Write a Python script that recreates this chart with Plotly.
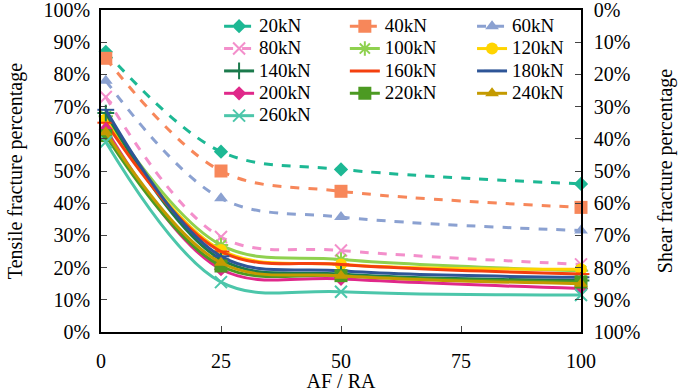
import plotly.graph_objects as go

x_vals = [1, 25, 50, 100]
labels = ["20kN", "40kN", "60kN", "80kN", "100kN", "120kN", "140kN",
          "160kN", "180kN", "200kN", "220kN", "240kN", "260kN"]
v20 = [87, 56, 50.5, 46]
v40 = [85, 50, 43.7, 38.7]
v60 = [78, 41.5, 35.7, 31.5]
v80 = [73, 29.5, 25.3, 21]
v100 = [67, 27, 22.5, 19]
v120 = [66, 25.5, 21, 19.5]
v140 = [68, 22.5, 18, 16]
v160 = [65, 25, 21, 18]
v180 = [69, 23.5, 19, 17]
v200 = [63, 19.5, 16.5, 13.5]
v220 = [61, 20.5, 17.5, 15.5]
v240 = [62, 21.5, 17.5, 15]
v260 = [59, 15.5, 12.5, 11.5]
series = [v20, v40, v60, v80, v100, v120, v140, v160, v180, v200, v220, v240, v260]
y_ticks = [0, 10, 20, 30, 40, 50, 60, 70, 80, 90, 100]
y_tick_text = [f"{t}%" for t in y_ticks]
x_ticks = [0, 25, 50, 75, 100]

colors = ["#1DB894", "#F7875A", "#8BA1D1", "#F38FCB", "#8FD14F", "#FFD400",
          "#1B7A4C", "#F4400F", "#2E5597", "#E0288A", "#4C9A22", "#C49A00", "#4CC6AA"]
symbols = ["diamond", "square", "triangle-up", "x-thin", "asterisk", "circle",
           "cross-thin", "line-ew", "line-ew", "diamond", "square", "triangle-up", "x-thin"]
dashes = ["dash"] * 4 + ["solid"] * 9
msize = [11, 13, 12, 12, 12, 12, 12, 12, 12, 11, 13, 12, 12]
legend_ids = ["legend", "legend2", "legend3"]

FONT = "Liberation Serif"
fig = go.Figure()
for i, (name, vals) in enumerate(zip(labels, series)):
    sym = symbols[i]
    open_sym = sym in ("x-thin", "asterisk", "cross-thin", "line-ew")
    fig.add_trace(go.Scatter(
        x=x_vals, y=vals, name=f'<span style="font-size:19px">{name}</span>',
        mode="lines+markers", cliponaxis=False,
        line=dict(color=colors[i], width=3, dash=dashes[i],
                  shape="spline", smoothing=1),
        marker=dict(symbol=sym, size=msize[i], color=colors[i],
                    line=dict(color=colors[i], width=2 if open_sym else 0)),
        legend=legend_ids[i % 3],
    ))

# invisible helper trace for the shear axis
fig.add_trace(go.Scatter(x=x_vals, y=[100 - v for v in v20], yaxis="y2",
                         mode="lines", line=dict(width=0), opacity=0,
                         showlegend=False, hoverinfo="skip"))

leg_common = dict(bgcolor="rgba(0,0,0,0)", font=dict(family=FONT, size=14.9, color="black"),
                  yanchor="top", xanchor="left", tracegroupgap=0, itemwidth=30)
TF = 20
fig.update_layout(
    width=678, height=392,
    margin=dict(l=101, r=97, t=10, b=60, autoexpand=False),
    paper_bgcolor="white", plot_bgcolor="white",
    font=dict(family=FONT, size=TF, color="black"),
    xaxis=dict(range=[0, 100], tickvals=x_ticks, ticks="inside", ticklen=6,
               showline=True, linecolor="black", linewidth=1.5, mirror=True,
               showgrid=False, zeroline=False, ticklabelstandoff=10, automargin=True,
               ticklabeloverflow="allow",
               title=dict(text="AF / RA", font=dict(family=FONT, size=TF), standoff=1),
               tickfont=dict(family=FONT, size=TF)),
    yaxis=dict(range=[0, 100], tickvals=y_ticks, ticktext=y_tick_text, ticks="inside",
               ticklen=6, showline=True, linecolor="black", linewidth=1.5,
               showgrid=False, zeroline=False, ticklabelstandoff=5, automargin=True,
               ticklabeloverflow="allow",
               title=dict(text="Tensile fracture percentage", font=dict(family=FONT, size=TF), standoff=16),
               tickfont=dict(family=FONT, size=TF)),
    yaxis2=dict(range=[100, 0], overlaying="y", side="right", tickvals=y_ticks,
                ticktext=y_tick_text, ticks="inside", ticklen=6, showline=True,
                linecolor="black", linewidth=1.5, showgrid=False, zeroline=False,
                ticklabelstandoff=7, automargin=True, ticklabeloverflow="allow",
                title=dict(text="Shear fracture percentage", font=dict(family=FONT, size=TF), standoff=19),
                tickfont=dict(family=FONT, size=TF)),
    legend=dict(x=0.246, y=1.0, **leg_common),
    legend2=dict(x=0.508, y=1.0, **leg_common),
    legend3=dict(x=0.773, y=1.0, **leg_common),
    showlegend=True,
)
fig.write_html("out.html", config={"displayModeBar": False},
               post_script="document.body.style.margin='0px';")
